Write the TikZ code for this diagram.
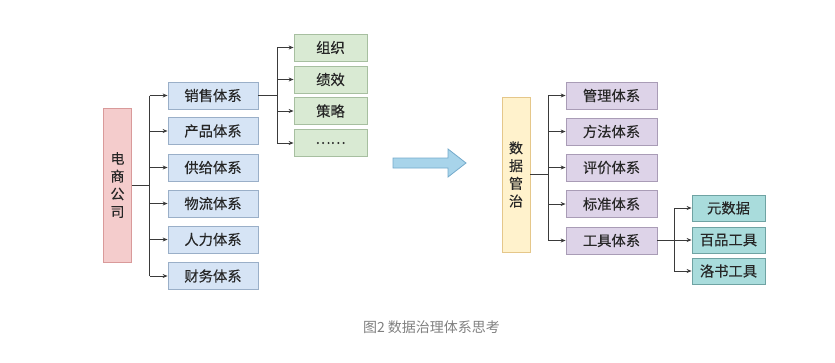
\documentclass[tikz,border=0pt]{standalone}
\usepackage{fontspec}
\setmainfont{Noto Sans CJK SC}[FakeBold=0.2]
\newfontfamily\capfont{Noto Sans CJK SC}
\usetikzlibrary{arrows.meta}
\definecolor{redf}{HTML}{F4CCCC}\definecolor{redd}{HTML}{D99A9A}
\definecolor{bluef}{HTML}{D6E4F5}\definecolor{blued}{HTML}{9AAFC8}
\definecolor{greenf}{HTML}{D9EAD3}\definecolor{greend}{HTML}{A7BFA0}
\definecolor{purpf}{HTML}{DDD3E8}\definecolor{purpd}{HTML}{A99CB6}
\definecolor{tealf}{HTML}{A9DCDC}\definecolor{teald}{HTML}{6FA3A3}
\definecolor{yelf}{HTML}{FFF2CC}\definecolor{yeld}{HTML}{E5C78A}
\definecolor{arrf}{HTML}{A8D4EA}\definecolor{arrd}{HTML}{74AACB}
\definecolor{linec}{HTML}{3A3A3A}
\begin{document}
\begin{tikzpicture}[x=1pt,y=-1pt,
  box/.style={draw, line width=0.8pt, minimum height=27pt, inner sep=0pt, text=black!85, font=\fontsize{14.3}{16}\selectfont},
  bluebox/.style={box, fill=bluef, draw=blued, minimum width=90pt},
  greenbox/.style={box, fill=greenf, draw=greend, minimum width=73pt},
  purpbox/.style={box, fill=purpf, draw=purpd, minimum width=91pt},
  tealbox/.style={box, fill=tealf, draw=teald, minimum width=73pt, minimum height=26pt},
  vbox/.style={draw, line width=0.8pt, minimum width=28pt, inner sep=0pt, align=center, text=black!85, font=\fontsize{14}{17.7}\selectfont},
  conn/.style={linec, line width=0.9pt},
  arr/.style={linec, line width=0.9pt, -{Stealth[length=5pt,width=4pt]}}]
\useasboundingbox (0,0) rectangle (835,362);
% left part
\node[vbox, fill=redf, draw=redd, minimum height=154pt] (ec) at (117.5,185) {电\\商\\公\\司};
\node[bluebox] (b1) at (213,95.5) {销售体系};
\node[bluebox] (b2) at (213,131) {产品体系};
\node[bluebox] (b3) at (213,167.5) {供给体系};
\node[bluebox] (b4) at (213,203.5) {物流体系};
\node[bluebox] (b5) at (213,239.5) {人力体系};
\node[bluebox] (b6) at (213,276) {财务体系};
\coordinate (t1) at (149.5,185);
\draw[conn] (ec.east |- t1) -- (t1);
\draw[conn] (149.5,95.5) -- (149.5,276);
\foreach \b in {b1,b2,b3,b4,b5,b6} \draw[arr] (149.5,0 |- \b.west) -- (\b.west);
\node[greenbox] (g1) at (330.5,47.5) {组织};
\node[greenbox] (g2) at (330.5,79.5) {绩效};
\node[greenbox] (g3) at (330.5,111) {策略};
\node[greenbox] (g4) at (330.5,143) {……};
\coordinate (t2) at (277,95.5);
\draw[conn] (b1.east) -- (t2);
\draw[conn] (277,47.5) -- (277,143);
\foreach \g in {g1,g2,g3,g4} \draw[arr] (277,0 |- \g.west) -- (\g.west);
% big arrow
\draw[draw=arrd, fill=arrf, line width=0.8pt, line join=miter]
  (393,158) -- (448,158) -- (448,149) -- (466,163) -- (448,177) -- (448,168) -- (393,168) -- cycle;
% right part
\node[vbox, fill=yelf, draw=yeld, minimum height=155pt] (dg) at (516,174.5) {数\\据\\管\\治};
\node[purpbox] (p1) at (611.5,95.5) {管理体系};
\node[purpbox] (p2) at (611.5,131.5) {方法体系};
\node[purpbox] (p3) at (611.5,167.5) {评价体系};
\node[purpbox] (p4) at (611.5,204) {标准体系};
\node[purpbox] (p5) at (611.5,240.5) {工具体系};
\coordinate (t3) at (548,174.5);
\draw[conn] (dg.east |- t3) -- (t3);
\draw[conn] (548,95.5) -- (548,240.5);
\foreach \p in {p1,p2,p3,p4,p5} \draw[arr] (548,0 |- \p.west) -- (\p.west);
\node[tealbox] (c1) at (728.5,208) {元数据};
\node[tealbox] (c2) at (728.5,240) {百品工具};
\node[tealbox] (c3) at (728.5,271) {洛书工具};
\coordinate (t4) at (674,240.5);
\draw[conn] (p5.east) -- (t4);
\draw[conn] (674,208) -- (674,271);
\foreach \c in {c1,c2,c3} \draw[arr] (674,0 |- \c.west) -- (\c.west);
% caption
\node[text=black!50, font=\capfont\fontsize{14}{16}\selectfont, inner sep=0pt] (cap) at (431.5,327) {图2 数据治理体系思考};
\end{tikzpicture}
\end{document}
